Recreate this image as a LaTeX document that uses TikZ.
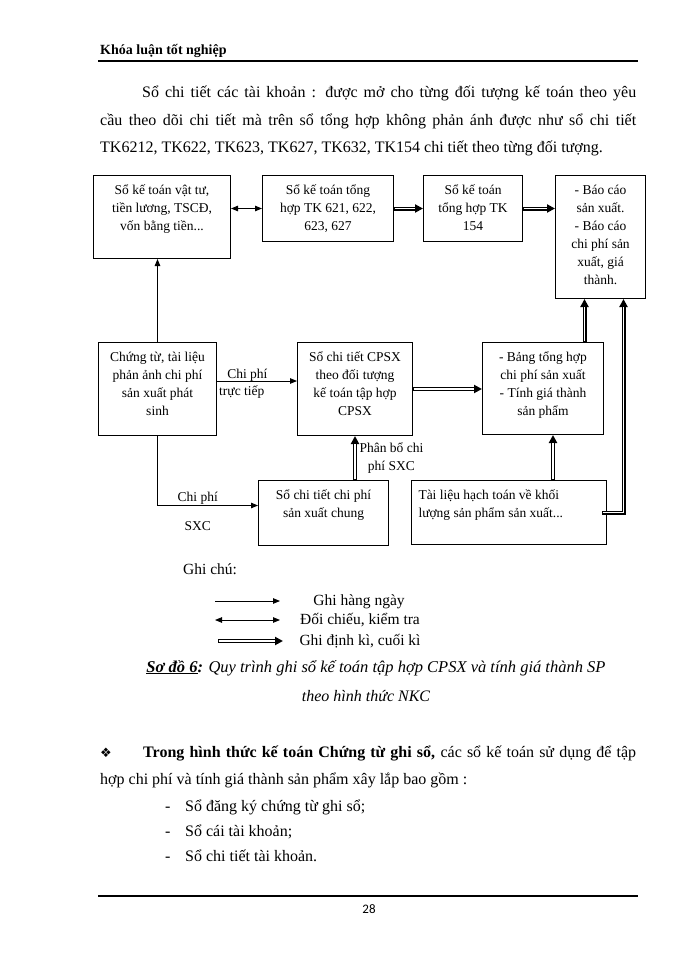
\documentclass[tikz,border=0pt]{standalone}
\usepackage{fontspec}
\setmainfont{Liberation Serif}
\newfontfamily\symbolfont{DejaVu Sans}
\newfontfamily\pagenumfont{Carlito}
\usetikzlibrary{arrows.meta,calc}

% text set at the top of a box of given width and height
\newcommand{\boxtext}[3]{\parbox[c][#2pt][t]{#1pt}{\centering\vspace*{6pt}#3}}

\begin{document}
\begin{tikzpicture}[x=1pt,y=-1pt,
                    box/.style={draw,line width=1pt,anchor=north west,inner sep=0pt,
                                font=\fontsize{13.5}{18}\selectfont},
                    lbl/.style={inner sep=1pt,font=\fontsize{13.5}{18}\selectfont},
                    daily/.style={line width=0.9pt,-{Triangle[length=7pt,width=5.5pt]}},
                    check/.style={line width=0.9pt,{Triangle[length=7pt,width=5.5pt]}-{Triangle[length=7pt,width=5.5pt]}},
                    periodic/.style={line width=4pt,-{Triangle[length=8pt,width=8pt]},
                                     postaction={draw=white,line width=1.8pt,arrows=-,shorten >=8pt,shorten <=0.6pt}},
                    body/.style={inner sep=0pt,align=justify,font=\fontsize{16}{27.5}\selectfont},
                    keytext/.style={anchor=base,inner sep=0pt,font=\fontsize{15.5}{18}\selectfont}
]
\useasboundingbox (0,0) rectangle (700,960);

% Page header
\node[anchor=base west,inner sep=0pt,font=\bfseries\fontsize{14}{16}\selectfont] (header) at (100,55) {Khóa luận tốt nghiệp};
\coordinate (hruleL) at (98,61);
\coordinate (hruleR) at (638,61);
\draw[line width=2.2pt] (hruleL) -- (hruleR);

% Text above the diagram
\node[body,anchor=north west,text width=536pt] (intro) at (100,78.5)
    {\noindent\hspace*{42pt}\strut Sổ chi tiết các tài khoản : được mở cho từng đối tượng kế toán theo yêu\linebreak
     cầu theo dõi chi tiết mà trên sổ tổng hợp không phản ánh được như sổ chi tiết\linebreak
     TK6212, TK622, TK623, TK627, TK632, TK154 chi tiết theo từng đối tượng.};

% Draw the boxes
%
% Top row
\node[box] (vattu) at (93,175) {\boxtext{137}{83}{\strut Sổ kế toán vật tư,\\tiền lương, TSCĐ,\\vốn bằng tiền...}};
\node[box] (tk621) at (262,175) {\boxtext{131}{66}{\strut Sổ kế toán tổng\\hợp TK 621, 622,\\623, 627}};
\node[box] (tk154) at (423,175) {\boxtext{99}{66}{\strut Sổ kế toán\\tổng hợp TK\\154}};
\node[box] (baocao) at (555,175) {\boxtext{90}{123}{\strut - Báo cáo\\sản xuất.\\- Báo cáo\\chi phí sản\\xuất, giá\\thành.}};

% Middle row
\node[box] (chungtu) at (98,342) {\boxtext{118}{93}{\strut Chứng từ, tài liệu\\phản ảnh chi phí\\sản xuất phát\\sinh}};
\node[box] (cpsx) at (297,342) {\boxtext{115}{93}{\strut Sổ chi tiết CPSX\\theo đối tượng\\kế toán tập hợp\\CPSX}};
\node[box] (bangth) at (482,342) {\boxtext{121}{92}{\strut - Bảng tổng hợp\\chi phí sản xuất\\- Tính giá thành\\sản phẩm}};

% Bottom row
\node[box] (sxc) at (258,480) {\boxtext{130}{65}{\strut Sổ chi tiết chi phí\\sản xuất chung}};
\node[box] (tailieu) at (411,480) {\boxtext{195}{64}{\raggedright\leftskip=7pt\strut Tài liệu hạch toán về khối\\lượng sản phẩm sản xuất...}};

% Helper points on the box edges
\coordinate (ctE) at ($(chungtu.east)+(0,-8)$);
\coordinate (sxcW) at ($(sxc.west)+(0,-7.5)$);
\coordinate (bgS) at ($(bangth.south)+(10,0)$);
\coordinate (bcS1) at ($(baocao.south)+(-16,0)$);
\coordinate (bcS2) at ($(baocao.south)+(23,0)$);
\coordinate (tlE) at ($(tailieu.east)+(-5,0)$);

% Daily entries
\draw[daily] (chungtu.north) -- (chungtu.north |- vattu.south);
\draw[daily] (ctE) -- node[pos=0.38,above=-2pt,lbl] (lblct1) {Chi phí}
                      node[pos=0.31,below=3pt,lbl] (lblct2) {trực tiếp} (ctE -| cpsx.west);
\draw[daily] (chungtu.south) |- node[pos=0.70,above=0pt,lbl] (lblsxc1) {Chi phí}
                                node[pos=0.70,below=15pt,lbl] (lblsxc2) {SXC} (sxcW);

% Cross checking
\draw[check] (vattu.east |- tk621.west) -- (tk621.west);

% Periodic entries
\draw[periodic] (tk621.east) -- (tk154.west);
\draw[periodic] (tk154.east) -- (tk154.east -| baocao.west);
\draw[periodic] (cpsx.east) -- (cpsx.east -| bangth.west);
\draw[periodic] (cpsx.south |- sxc.north) -- node[right=1.5pt,lbl,align=center] (lblpb) {Phân bổ chi\\phí SXC} (cpsx.south);
\draw[periodic] (bgS |- tailieu.north) -- (bgS);
\draw[periodic] (bcS1 |- bangth.north) -- (bcS1);
\draw[periodic] (tlE) -| (bcS2);

% Key
\node[anchor=base west,inner sep=0pt,font=\fontsize{15.5}{18}\selectfont] (note) at (183,574) {Ghi chú:};
\coordinate (keyA1) at (215,601);
\coordinate (keyA2) at (280,601);
\coordinate (keyB1) at (215,620);
\coordinate (keyB2) at (280,620);
\coordinate (keyC1) at (218,641);
\coordinate (keyC2) at (283,641);
\draw[daily] (keyA1) -- (keyA2);
\draw[check] (keyB1) -- (keyB2);
\draw[periodic] (keyC1) -- (keyC2);
\node[keytext] (keyA) at (359,605) {Ghi hàng ngày};
\node[keytext] (keyB) at (360,624) {Đối chiếu, kiểm tra};
\node[keytext] (keyC) at (360,645) {Ghi định kì, cuối kì};

% Caption
\node[anchor=base,inner sep=0pt,font=\itshape\fontsize{16.5}{20}\selectfont] (caption1) at (376,672)
    {\textbf{\underline{Sơ đồ 6}:} Quy trình ghi sổ kế toán tập hợp CPSX và tính giá thành SP};
\node[anchor=base,inner sep=0pt,font=\itshape\fontsize{16}{20}\selectfont] (caption2) at (366,701)
    {theo hình thức NKC};

% Text below the diagram
\node[body,anchor=north west,text width=536pt,font=\fontsize{16}{27}\selectfont] (ctgs) at (100,738)
    {\noindent\strut\makebox[43pt][l]{\symbolfont\fontsize{13}{13}\selectfont ❖}\textbf{Trong hình thức kế toán Chứng từ ghi sổ,} các sổ kế toán sử dụng để tập\linebreak
     hợp chi phí và tính giá thành sản phẩm xây lắp bao gồm :};
\node[anchor=north west,inner sep=0pt,align=left,font=\fontsize{16}{25}\selectfont] (items) at (165,793.5)
    {\strut\makebox[20pt][l]{-}Sổ đăng ký chứng từ ghi sổ;\\
     \makebox[20pt][l]{-}Sổ cái tài khoản;\\
     \makebox[20pt][l]{-}Sổ chi tiết tài khoản.};

% Page footer
\coordinate (fruleL) at (98,896);
\coordinate (fruleR) at (638,896);
\draw[line width=2.2pt] (fruleL) -- (fruleR);
\node[anchor=base,inner sep=0pt,font=\pagenumfont\fontsize{13}{15}\selectfont] (pagenum) at (369,913) {28};

\end{tikzpicture}
\end{document}
